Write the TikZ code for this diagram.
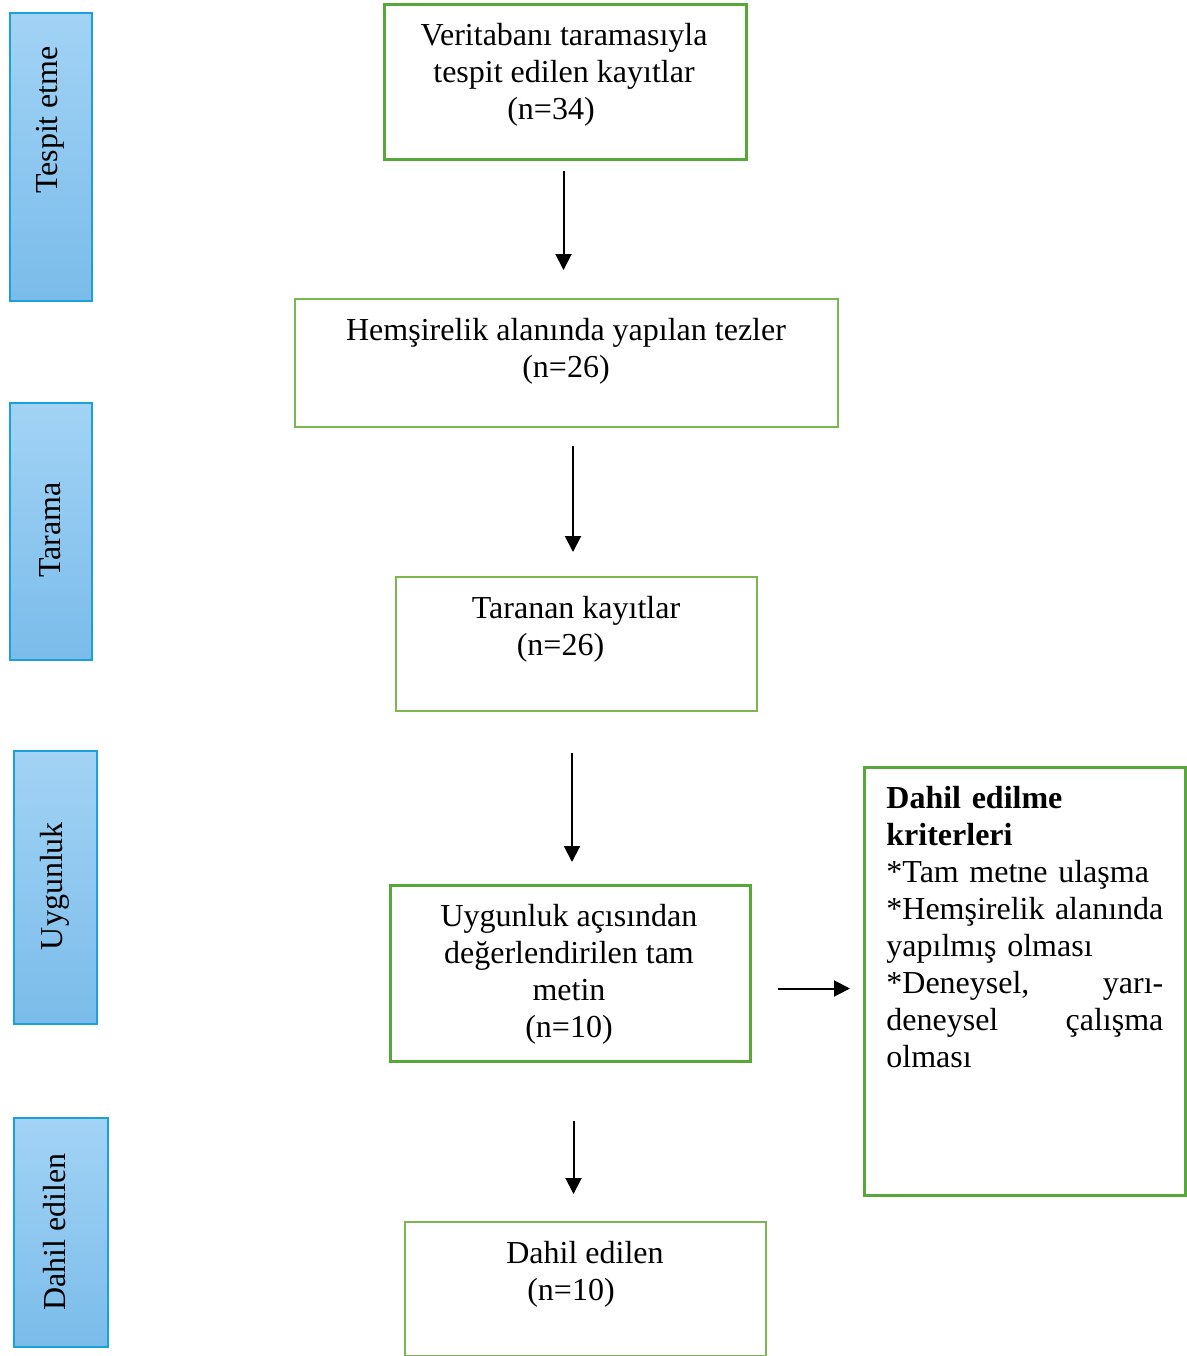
\documentclass[tikz,border=0pt]{standalone}
\usepackage{fontspec}
\setmainfont{Liberation Serif}
\usetikzlibrary{arrows.meta,calc}

\definecolor{sideTop}{RGB}{162,211,245}
\definecolor{sideBot}{RGB}{122,188,234}
\definecolor{sideLine}{RGB}{28,160,218}
\definecolor{grnDark}{RGB}{86,168,56}
\definecolor{grnLight}{RGB}{122,182,82}

\begin{document}
\begin{tikzpicture}[x=0.5pt,y=-0.5pt,
  every node/.style={font=\fontsize{16}{18.5}\selectfont, inner sep=0pt},
  side/.style={draw=sideLine, line width=1pt, top color=sideTop, bottom color=sideBot, anchor=north west},
  boxA/.style={draw=grnDark, line width=1.5pt, anchor=north west},
  boxB/.style={draw=grnLight, line width=1pt, anchor=north west},
  txt/.style={anchor=north, align=center},
  arr/.style={-{Triangle[length=8pt,width=8pt]}, line width=1pt}]
\useasboundingbox (0,0) rectangle (1187,1356);

% stage bars on the left
\node[side, minimum width=41pt, minimum height=144pt] (s1) at (9,12) {};
\node[side, minimum width=41pt, minimum height=128.5pt] (s2) at (9,402) {};
\node[side, minimum width=41.5pt, minimum height=136.5pt] (s3) at (13,750) {};
\node[side, minimum width=47pt, minimum height=114.5pt] (s4) at (13,1117) {};
\node[rotate=90] (s1T) at (50,120) {Tespit etme};
\node[rotate=90] (s2T) at (50,530) {Tarama};
\node[rotate=90] (s3T) at (55,886) {Uygunluk};
\node[rotate=90] (s4T) at (55,1232) {Dahil edilen};

% flow boxes
\node[boxA, minimum width=181pt, minimum height=77.5pt] (ver) at (383,3) {};
\node[boxB, minimum width=271.5pt, minimum height=64pt] (hem) at (294,298) {};
\node[boxB, minimum width=180.5pt, minimum height=67pt] (tar) at (395,576) {};
\node[boxA, minimum width=180pt, minimum height=88pt] (uyg) at (389,884) {};
\node[boxB, minimum width=180.5pt, minimum height=67pt] (dah) at (404,1221) {};
\node[boxA, minimum width=160.5pt, minimum height=214pt] (kri) at (863,766) {};

\node[txt] (verT) at (564,23) {Veritabanı taramasıyla\\tespit edilen kayıtlar\\(n=34)\hspace*{13pt}};
\node[txt] (hemT) at (566,318) {Hemşirelik alanında yapılan tezler\\(n=26)};
\node[txt] (tarT) at (576,596) {Taranan kayıtlar\\(n=26)\hspace*{15.5pt}};
\node[txt] (uygT) at (569,904) {Uygunluk açısından\\değerlendirilen tam\\metin\\(n=10)};
\node[txt] (dahT) at (585,1241) {Dahil edilen\\(n=10)\hspace*{14pt}};
\node[anchor=north west, align=left, text width=138.5pt] (kriT) at (886,786)
  {\textbf{Dahil edilme}\\\textbf{kriterleri}\\{*}Tam metne ulaşma\\{*}Hemşirelik\hfill alanında\\yapılmış olması\\{*}Deneysel,\hfill yarı-\\deneysel\hfill çalışma\\olması};

% arrows
\draw[arr, shorten <=5pt, shorten >=14pt] ([xshift=-1pt]ver.south) -- ([xshift=-1pt]ver.south |- hem.north);
\draw[arr, shorten <=9pt, shorten >=12pt] ([xshift=3.25pt]hem.south) -- ([xshift=3.25pt]hem.south |- tar.north);
\draw[arr, shorten <=20.5pt, shorten >=11pt] ([xshift=-2.25pt]tar.south) -- ([xshift=-2.25pt]tar.south |- uyg.north);
\draw[arr, shorten <=29pt, shorten >=13.5pt] ([xshift=1.5pt]uyg.south) -- ([xshift=1.5pt]uyg.south |- dah.north);
\draw[arr, shorten <=13pt, shorten >=6.5pt] ([yshift=-7.5pt]uyg.east) -- ([yshift=-7.5pt]uyg.east -| kri.west);
\end{tikzpicture}
\end{document}
